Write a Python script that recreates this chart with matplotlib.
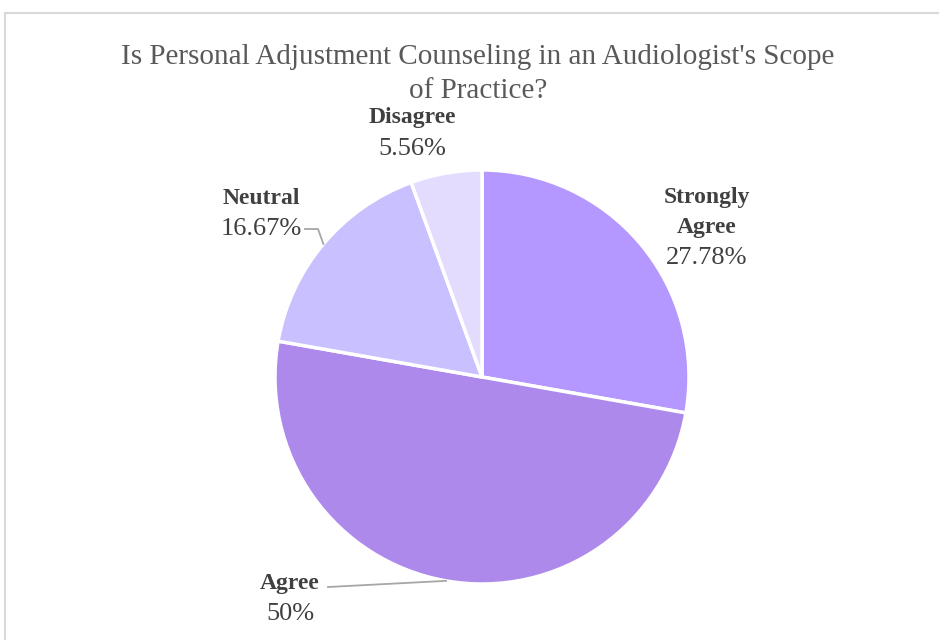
import numpy as np
import matplotlib.pyplot as plt
from matplotlib.patches import Rectangle

# Survey answers
labels = ['Strongly\nAgree', 'Agree', 'Neutral', 'Disagree']
shares = [27.78, 50.0, 16.67, 5.56]
pct_text = ['27.78%', '50%', '16.67%', '5.56%']
colors = ['#b497ff', '#ad89eb', '#c9c0ff', '#e4dcff']

plt.rcParams['font.family'] = ['Liberation Serif', 'DejaVu Serif']

W, H = 939, 640
fig = plt.figure(figsize=(W / 100, H / 100), dpi=100)
ax = fig.add_axes([0, 0, 1, 1])

# chart frame
ax.add_patch(Rectangle((5, -10), W + 20, H - 13 + 10, fill=False,
                       edgecolor='#d9d9d9', lw=1.5))

cx, cy, r = 482, 263, 207
wedges, _ = ax.pie(shares, colors=colors, startangle=90, counterclock=False,
                   center=(cx, cy), radius=r, frame=True,
                   wedgeprops=dict(edgecolor='white', linewidth=2.5))
ax.set_xlim(0, W)
ax.set_ylim(0, H)
ax.set_aspect('equal')
ax.axis('off')

ax.text(478, 583, "Is Personal Adjustment Counseling in an Audiologist's Scope",
        ha='center', va='center', fontsize=21, color='#595959')
ax.text(478, 562, "of Practice?",
        ha='center', va='top', fontsize=21, color='#595959')

# label positions: centre of the first name line
name_pos = [(707, 442), (290, 57), (261, 442), (412, 522)]
txt_col = '#404040'
for i, (x, y) in enumerate(name_pos):
    lines = labels[i].split('\n')
    for j, line in enumerate(lines):
        ax.text(x, y - 29 * j, line, ha='center', va='center', fontsize=17,
                fontweight='bold', color=txt_col)
    ax.text(x, y - 29 * (len(lines) - 1) - 31, pct_text[i], ha='center',
            va='center', fontsize=19, color=txt_col)


def edge_point(k):
    w = wedges[k]
    mid = np.deg2rad((w.theta1 + w.theta2) / 2)
    return cx + r * np.cos(mid), cy + r * np.sin(mid)


# leader lines for Agree and Neutral
ex, ey = edge_point(1)
ax.plot([328, ex], [53, ey], color='#a6a6a6', lw=1.3)
ex, ey = edge_point(2)
ax.plot([305, 318, ex], [411, 411, ey], color='#a6a6a6', lw=1.3)

fig.savefig('out.png', dpi=100)
